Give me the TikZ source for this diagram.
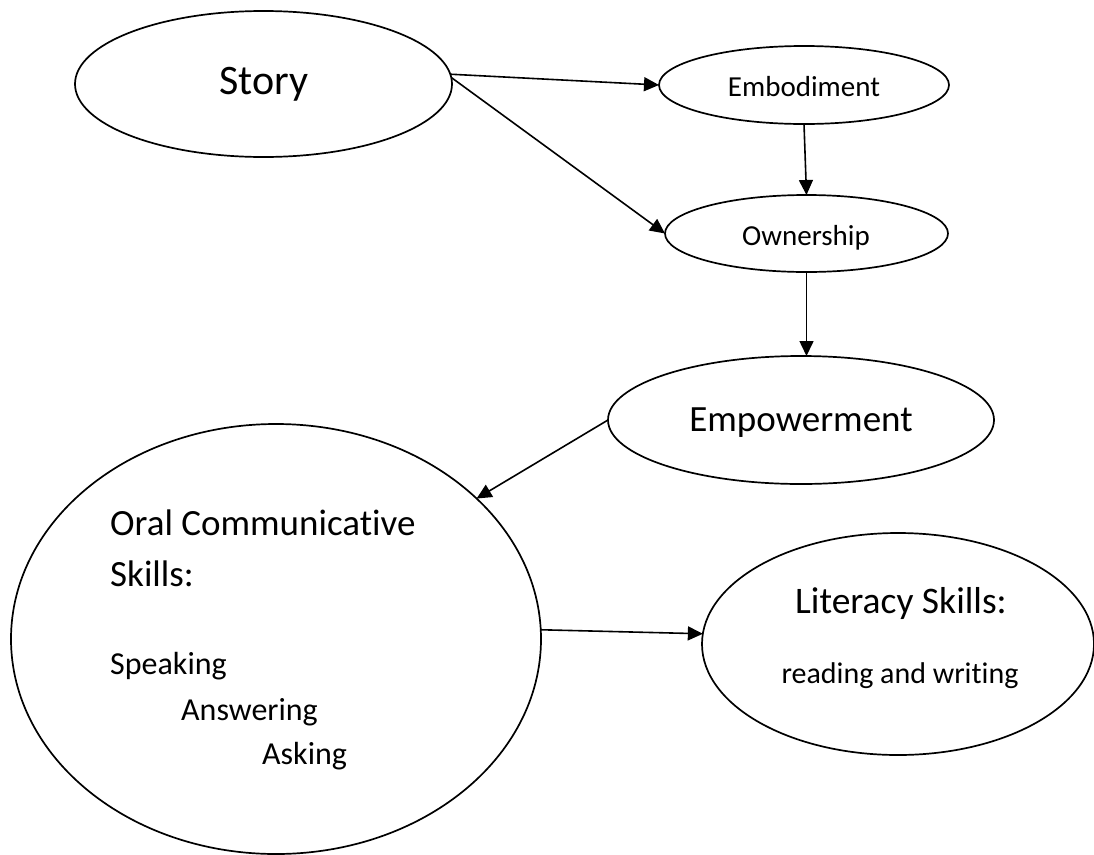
\documentclass[tikz,border=0pt]{standalone}
\usepackage{fontspec}
\setmainfont[Ligatures=NoCommon]{Carlito}
\usetikzlibrary{shapes.geometric,arrows.meta}
\newcommand{\fs}[1]{\fontsize{#1}{#1}\selectfont}
\begin{document}
\begin{tikzpicture}[x=1pt,y=-1pt,
  bubble/.style={draw,ellipse,line width=1.7pt,inner sep=0pt,outer sep=0pt},
  txt/.style={anchor=base,inner sep=0pt},
  txtl/.style={anchor=base west,inner sep=0pt},
  link/.style={line width=1.6pt,-{Triangle[length=15pt,width=14pt]}}]
\useasboundingbox (0,0) rectangle (1094,854);
% ellipses
\node[bubble,minimum width=377pt,minimum height=146pt] (story) at (263.5,84) {};
\node[bubble,minimum width=290pt,minimum height=78pt] (emb) at (804,85) {};
\node[bubble,minimum width=283pt,minimum height=77pt] (own) at (806.5,233.5) {};
\node[bubble,minimum width=386pt,minimum height=128pt] (emp) at (801,420) {};
\node[bubble,minimum width=530pt,minimum height=430pt] (oral) at (276,639) {};
\node[bubble,minimum width=392pt,minimum height=222pt] (lit) at (898,644) {};
% labels
\node[txt] (storyt) at (264,94) {\fs{42}Story};
\node[txt] (embt) at (804,96) {\fs{29}Embodiment};
\node[txt] (ownt) at (806,245) {\fs{29}Ownership};
\node[txt] (empt) at (801,431) {\fs{37}Empowerment};
\node[txtl] (oral1) at (110,535) {\fs{37}Oral Communicative};
\node[txtl] (oral2) at (110,586) {\fs{37}Skills:};
\node[txtl] (sp) at (110,674) {\fs{32}Speaking};
\node[txtl] (an) at (181,720) {\fs{32}Answering};
\node[txtl] (as) at (262,764) {\fs{32}Asking};
\node[txt] (lit1) at (901,613) {\fs{37.5}Literacy Skills:};
\node[txt] (lit2) at (900,683) {\fs{30}reading and writing};
% connectors
\draw[link] (story.3) -- (emb.west);
\draw[link] (story.2) -- (own.west);
\draw[link] (emb.south) -- (own.north);
\draw[link] (own.south) -- (own.south |- emp.north);
\draw[link] (emp.west) -- (oral.35);
\draw[link] (oral.2) -- (lit.177.7);
\end{tikzpicture}
\end{document}
